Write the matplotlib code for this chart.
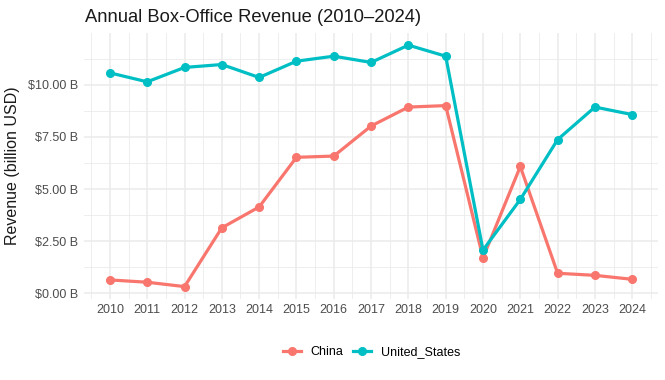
import matplotlib
matplotlib.use("Agg")
import matplotlib.pyplot as plt
import matplotlib.ticker as ticker
import numpy as np

plt.rcParams['font.family'] = ['Liberation Sans', 'DejaVu Sans']

years = list(range(2010, 2025))
china = [0.64, 0.53, 0.32, 3.14, 4.14, 6.52, 6.58, 8.02, 8.93, 9.00,
         1.70, 6.08, 0.96, 0.86, 0.67]
united_states = [10.57, 10.14, 10.83, 10.97, 10.35, 11.13, 11.37, 11.07, 11.90, 11.37,
                 2.07, 4.50, 7.37, 8.93, 8.57]

col_china = '#F8766D'
col_us = '#00BFC4'
grid_col = '#EBEBEB'

fig = plt.figure(figsize=(6.65, 3.8), dpi=100)
ax = fig.add_axes([0.126, 0.214, 0.864, 0.699])

ax.plot(years, china, color=col_china, linewidth=2.3, marker='o', markersize=5.5, label='China')
ax.plot(years, united_states, color=col_us, linewidth=2.3, marker='o', markersize=5.5, label='United_States')

# ggplot-like expansion (5%)
ax.set_xlim(2009.3, 2024.7)
lo, hi = min(china + united_states), max(china + united_states)
pad = (hi - lo) * 0.05
ax.set_ylim(lo - pad, hi + pad)

ax.set_xticks(years)
ax.set_xticks(np.arange(2009.5, 2025, 1.0), minor=True)
ax.set_yticks([0, 2.5, 5, 7.5, 10])
ax.set_yticks([1.25, 3.75, 6.25, 8.75, 11.25], minor=True)
ax.yaxis.set_major_formatter(ticker.FuncFormatter(lambda v, p: '${:.2f} B'.format(v)))

ax.grid(which='major', color=grid_col, linewidth=1.1, zorder=0)
ax.grid(which='minor', color=grid_col, linewidth=0.6, zorder=0)
ax.set_axisbelow(True)
for s in ax.spines.values():
    s.set_visible(False)
ax.tick_params(which='both', length=0, labelsize=9, labelcolor='#4D4D4D', pad=4)

ax.set_ylabel('Revenue (billion USD)', fontsize=11.5, color='#1A1A1A', labelpad=6)
fig.text(0.128, 0.953, 'Annual Box-Office Revenue (2010\u20132024)', fontsize=13.2,
         color='#1A1A1A', ha='left', va='center')

fig.legend(loc='center', bbox_to_anchor=(0.559, 1 - 352 / 380), ncol=2, frameon=False,
           fontsize=9, handlelength=1.4, columnspacing=0.8, handletextpad=0.8)

fig.savefig('out.png', dpi=100)
